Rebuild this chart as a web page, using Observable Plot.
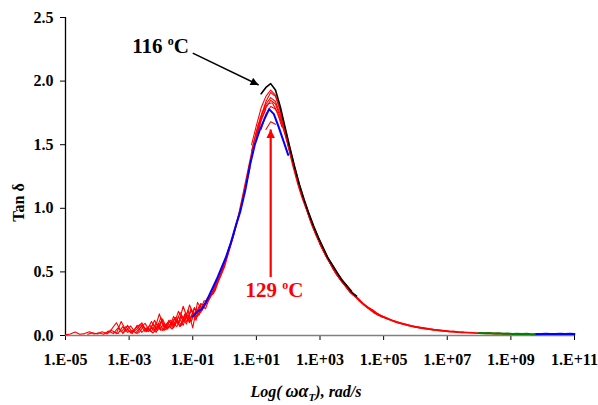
<!DOCTYPE html>
<html><head><meta charset="utf-8">
<script src="https://cdn.jsdelivr.net/npm/d3@7"></script>
<script src="https://cdn.jsdelivr.net/npm/@observablehq/plot@0.6"></script>
<style>body{margin:0;background:#fff}</style>
</head><body><div id="chart"></div>
<script>
// shared log-frequency grid of one sweep (decades, relative to the curve's start)
const relLog = [0,0.15,0.3,0.45,0.6,0.75,0.9,1.05,1.2,1.35,1.5,1.65,1.8,1.95,2.1,2.25,2.4,2.55,2.7,2.85,3.0];

// red shifted curves: start (log ωaT) and tan δ values
const red01 = [0.005,0.012,0.028,0.010,0.015,0.030,0.012,0.022,0.010,0.035,0.015,0.060,0.020,0.045,0.015,0.080,0.025,0.060,0.030,0.100,0.040];
const red02 = [0.010,0.022,0.012,0.030,0.015,0.050,0.100,0.030,0.070,0.020,0.055,0.090,0.030,0.080,0.045,0.170,0.060,0.110,0.080,0.190,0.110];
const red03 = [0.012,0.040,0.015,0.110,0.040,0.075,0.020,0.060,0.095,0.035,0.120,0.050,0.090,0.060,0.150,0.090,0.230,0.120,0.170,0.150,0.230];
const red04 = [0.015,0.080,0.025,0.050,0.100,0.030,0.110,0.050,0.140,0.060,0.120,0.080,0.180,0.110,0.240,0.140,0.230,0.220,0.300,0.330,0.440];
const red05 = [0.020,0.070,0.030,0.090,0.040,0.130,0.050,0.100,0.070,0.160,0.090,0.200,0.120,0.250,0.210,0.310,0.350,0.460,0.560,0.690,0.800];
const red06 = [0.030,0.090,0.040,0.120,0.060,0.150,0.080,0.200,0.060,0.260,0.200,0.290,0.330,0.420,0.500,0.620,0.720,0.860,0.990,1.150,1.320];
const red07 = [0.060,0.140,0.070,0.170,0.100,0.220,0.160,0.270,0.280,0.350,0.440,0.530,0.660,0.770,0.900,1.050,1.230,1.400,1.560,1.690,1.780];
const red08 = [0.110,0.210,0.140,0.250,0.240,0.300,0.380,0.460,0.560,0.680,0.820,0.960,1.140,1.320,1.500,1.650,1.760,1.820,1.830,1.760,1.640];
const red09 = [1.50,1.65,1.79,1.88,1.93,1.89,1.77,1.62,1.47,1.32,1.18,1.06,0.95,0.85,0.76,0.68,0.60,0.54,0.48,0.43,0.38];
const red10 = [1.57,1.72,1.84,1.91,1.88,1.77,1.63,1.48,1.33,1.19,1.07,0.96,0.86,0.77,0.69,0.61,0.55,0.49,0.44,0.39,0.35];
const red11 = [1.45,1.60,1.73,1.82,1.87,1.84,1.74,1.60,1.46,1.31,1.17,1.05,0.94,0.84,0.75,0.67,0.60,0.53,0.47,0.42,0.38];
const red12 = [1.55,1.70,1.79,1.85,1.82,1.72,1.59,1.45,1.31,1.17,1.05,0.94,0.84,0.75,0.67,0.60,0.53,0.47,0.42,0.38,0.34];
const red13 = [1.62,1.74,1.80,1.78,1.70,1.58,1.44,1.30,1.16,1.05,0.94,0.84,0.75,0.67,0.60,0.53,0.47,0.42,0.38,0.34,0.30];
const red14 = [1.62,1.68,1.66];
const red15 = [1.50,1.34,1.20,1.08,0.98,0.87,0.78,0.70,0.62,0.56,0.49,0.44,0.39,0.34,0.31,0.27,0.24,0.21,0.18,0.16,0.145];
const red16 = [0.72,0.65,0.58,0.52,0.46,0.41,0.36,0.32,0.29,0.25,0.22,0.20,0.17,0.15,0.135,0.12,0.105,0.095,0.085,0.075,0.068];
const red17 = [0.22,0.195,0.17,0.15,0.135,0.12,0.107,0.096,0.086,0.076,0.068,0.062,0.056,0.050,0.045,0.041,0.037,0.033,0.030,0.027,0.025];
const red18 = [0.068,0.061,0.055,0.050,0.045,0.041,0.037,0.033,0.030,0.027,0.025,0.023,0.021,0.019,0.018,0.017,0.016,0.015,0.014,0.013,0.012];
const red19 = [0.030,0.015,0.070,0.025,0.040,0.015,0.085,0.035,0.060,0.025,0.110,0.045,0.090,0.140,0.070,0.160,0.110,0.210,0.190,0.240,0.290];
const red20 = [0.050,0.020,0.080,0.040,0.100,0.050,0.130,0.080,0.170,0.110,0.200,0.180,0.250,0.300,0.370,0.450,0.540,0.670,0.800,0.940,1.100];
const redStarts = [-5.0,-4.3,-3.7,-3.2,-2.7,-2.2,-1.7,-1.2,0.85,1.0,0.85,1.0,1.15,1.3,2.0,3.0,4.5,6.0,-3.5,-2.4];
const redCurves = [red01,red02,red03,red04,red05,red06,red07,red08,red09,red10,red11,red12,red13,red14,red15,red16,red17,red18,red19,red20];
const redSmooth = [false,false,false,false,false,false,false,false,false,false,false,false,false,false,true,true,true,true,false,false];

// 116 °C (black), 129 °C (blue), high-frequency green and blue tails
const blackStart = 1.15;
const black116 = [1.90,1.95,1.98,1.93,1.80,1.64,1.48,1.33,1.19,1.07,0.96,0.86,0.77,0.69,0.61,0.55,0.49,0.43,0.39,0.34,0.31];
const blueStart = -1.0;
const blue129 = [0.15,0.19,0.21,0.28,0.36,0.44,0.53,0.62,0.73,0.86,0.98,1.14,1.34,1.50,1.61,1.70,1.78,1.74,1.64,1.53,1.42];
const greenStart = 8.0;
const greenTail = [0.019,0.017,0.019,0.015,0.017,0.013,0.016,0.012,0.014,0.011,0.013,0.010,0.012,0.010];
const blueTailStart = 9.8;
const blueTail = [0.012,0.011,0.013,0.011,0.012,0.014,0.012,0.013,0.012];

// axes
const xTickExps = [-5,-3,-1,1,3,5,7,9,11];
const xTickLabels = ["1.E-05","1.E-03","1.E-01","1.E+01","1.E+03","1.E+05","1.E+07","1.E+09","1.E+11"];
const yTicks = [0,0.5,1.0,1.5,2.0,2.5];
const yTickLabels = ["0.0","0.5","1.0","1.5","2.0","2.5"];

// annotations (data units: log ωaT, tan δ)
const labelTexts = ["116 oC","129 oC"];
const labelLog = [-2.01, 1.57];
const labelTan = [2.27, 0.354];
const labelColors = ["#000000","#ff0000"];
const arrowFromLog = [-1.0, 1.45], arrowFromTan = [2.22, 0.46];
const arrowToLog = [1.07, 1.45], arrowToTan = [1.97, 1.62];

function rows(id, start, vals) {
  return vals.map((v, i) => ({id, w: Math.pow(10, start + relLog[i]), tan: v}));
}
const redRows = redCurves.flatMap((c, k) => redSmooth[k] ? [] : rows("r" + k, redStarts[k], c));
const redSmoothRows = redCurves.flatMap((c, k) => redSmooth[k] ? rows("s" + k, redStarts[k], c) : []);
const blackRows = rows("b", blackStart, black116);
const blueRows = rows("u", blueStart, blue129);
const greenRows = rows("g", greenStart, greenTail);
const blueTailRows = rows("t", blueTailStart, blueTail);
const labels = labelTexts.map((t, i) => ({t, w: Math.pow(10, labelLog[i]), tan: labelTan[i], c: labelColors[i]}));
const arrows = arrowFromLog.map((d, i) => ({x1: Math.pow(10, d), y1: arrowFromTan[i], x2: Math.pow(10, arrowToLog[i]), y2: arrowToTan[i], c: labelColors[i]}));

const fmtX = d => xTickLabels[xTickExps.indexOf(Math.round(Math.log10(d)))];
const fmtY = d => yTickLabels[yTicks.indexOf(d)];
const xTicks = xTickExps.map(e => Math.pow(10, e));

const svg = Plot.plot({
  width: 598, height: 405,
  marginLeft: 65, marginRight: 24, marginTop: 17, marginBottom: 70,
  style: "font-family:'Liberation Serif',serif;font-size:16px;font-weight:bold;background:#fff;color:#000",
  x: {type: "log", domain: [1e-5, 1e11], ticks: xTicks, tickFormat: fmtX, tickSize: 5, tickPadding: 13, label: null},
  y: {domain: [0, 2.5], ticks: yTicks, tickFormat: fmtY, tickSize: 5, tickPadding: 7, label: null},
  marks: [
    Plot.ruleY([0], {stroke: "#808080", strokeWidth: 1.6}),
    Plot.ruleX([1e-5], {stroke: "#000", strokeWidth: 1.3}),
    Plot.line(redRows, {x: "w", y: "tan", z: "id", stroke: "#ff0000", strokeWidth: 1.1}),
    Plot.line(redSmoothRows, {x: "w", y: "tan", z: "id", stroke: "#ff0000", strokeWidth: 1.8}),
    Plot.line(blackRows, {x: "w", y: "tan", stroke: "#000", strokeWidth: 1.6}),
    Plot.line(blueRows, {x: "w", y: "tan", stroke: "#0000ff", strokeWidth: 2}),
    Plot.line(greenRows, {x: "w", y: "tan", stroke: "#008000", strokeWidth: 2}),
    Plot.line(blueTailRows, {x: "w", y: "tan", stroke: "#0000ff", strokeWidth: 2}),
    Plot.link(arrows.slice(0,1), {x1: "x1", y1: "y1", x2: "x2", y2: "y2", stroke: "#000", strokeWidth: 1.6}),
    Plot.link(arrows.slice(1), {x1: "x1", y1: "y1", x2: "x2", y2: "y2", stroke: "#ff0000", strokeWidth: 2.2}),
    Plot.text(labels, {x: "w", y: "tan", text: "t", fill: "c", fontSize: 21, textAnchor: "middle", lineAnchor: "middle"}),
    Plot.text(["Tan δ"], {text: d => d, frameAnchor: "left", rotate: -90, dx: -47, dy: 26, textAnchor: "middle", lineAnchor: "middle", fontSize: 16}),
    Plot.text(["Log( ωαT ), rad/s"], {text: d => d, frameAnchor: "bottom", dx: -14, dy: 56, textAnchor: "middle", lineAnchor: "middle", fontSize: 16, fontStyle: "italic"})
  ]
});

const s = d3.select(svg);
// axis styling: crossing ticks, fonts
s.selectAll('g[aria-label="x-axis"]').attr("font-size", 16).attr("font-family", "'Liberation Serif',serif").attr("font-weight", "bold")
  .selectAll(".tick line").attr("y1", -5).attr("y2", 5).attr("stroke", "#555").attr("stroke-width", 1.3);
s.selectAll('g[aria-label="y-axis"]').attr("font-size", 16).attr("font-family", "'Liberation Serif',serif").attr("font-weight", "bold")
  .selectAll(".tick line").attr("x1", 5).attr("x2", -5).attr("stroke", "#000").attr("stroke-width", 1.2);
s.selectAll('g[aria-label="x-axis"] .tick text, g[aria-label="y-axis"] .tick text').attr("fill", "#000");
// filled arrowheads
const defs = s.append("defs");
[["ah-black", "#000", 10, 8], ["ah-red", "#ff0000", 9, 9]].forEach(([id, col, len, wid]) => {
  defs.append("marker").attr("id", id).attr("viewBox", "0 0 10 10").attr("refX", 10).attr("refY", 5)
    .attr("markerUnits", "userSpaceOnUse").attr("markerWidth", len).attr("markerHeight", wid).attr("orient", "auto")
    .append("path").attr("d", "M0,0L10,5L0,10z").attr("fill", col);
});
s.selectAll('g[aria-label="link"]').each(function () {
  const g = d3.select(this);
  const col = g.attr("stroke");
  g.selectAll("path").attr("marker-end", col === "#000" ? "url(#ah-black)" : "url(#ah-red)");
});
// superscript "o" in temperature labels
s.selectAll("text").filter(function () { return / oC$/.test(this.textContent); }).each(function () {
  const t = d3.select(this);
  const num = this.textContent.split(" ")[0];
  t.text(null);
  t.append("tspan").text(num + " ");
  t.append("tspan").attr("font-size", 12).attr("dy", -8).text("o");
  t.append("tspan").attr("dy", 8).text("C");
});
// subscript T in x label
s.selectAll("text").filter(function () { return /^Log\(/.test(this.textContent); }).each(function () {
  const t = d3.select(this);
  t.text(null);
  t.append("tspan").text("Log( ");
  t.append("tspan").attr("font-size", 18).text("ωα");
  t.append("tspan").attr("font-size", 11).attr("dy", 4).text("T");
  t.append("tspan").attr("dy", -4).text("), rad/s");
});
document.getElementById("chart").appendChild(svg);
</script>
</body></html>
